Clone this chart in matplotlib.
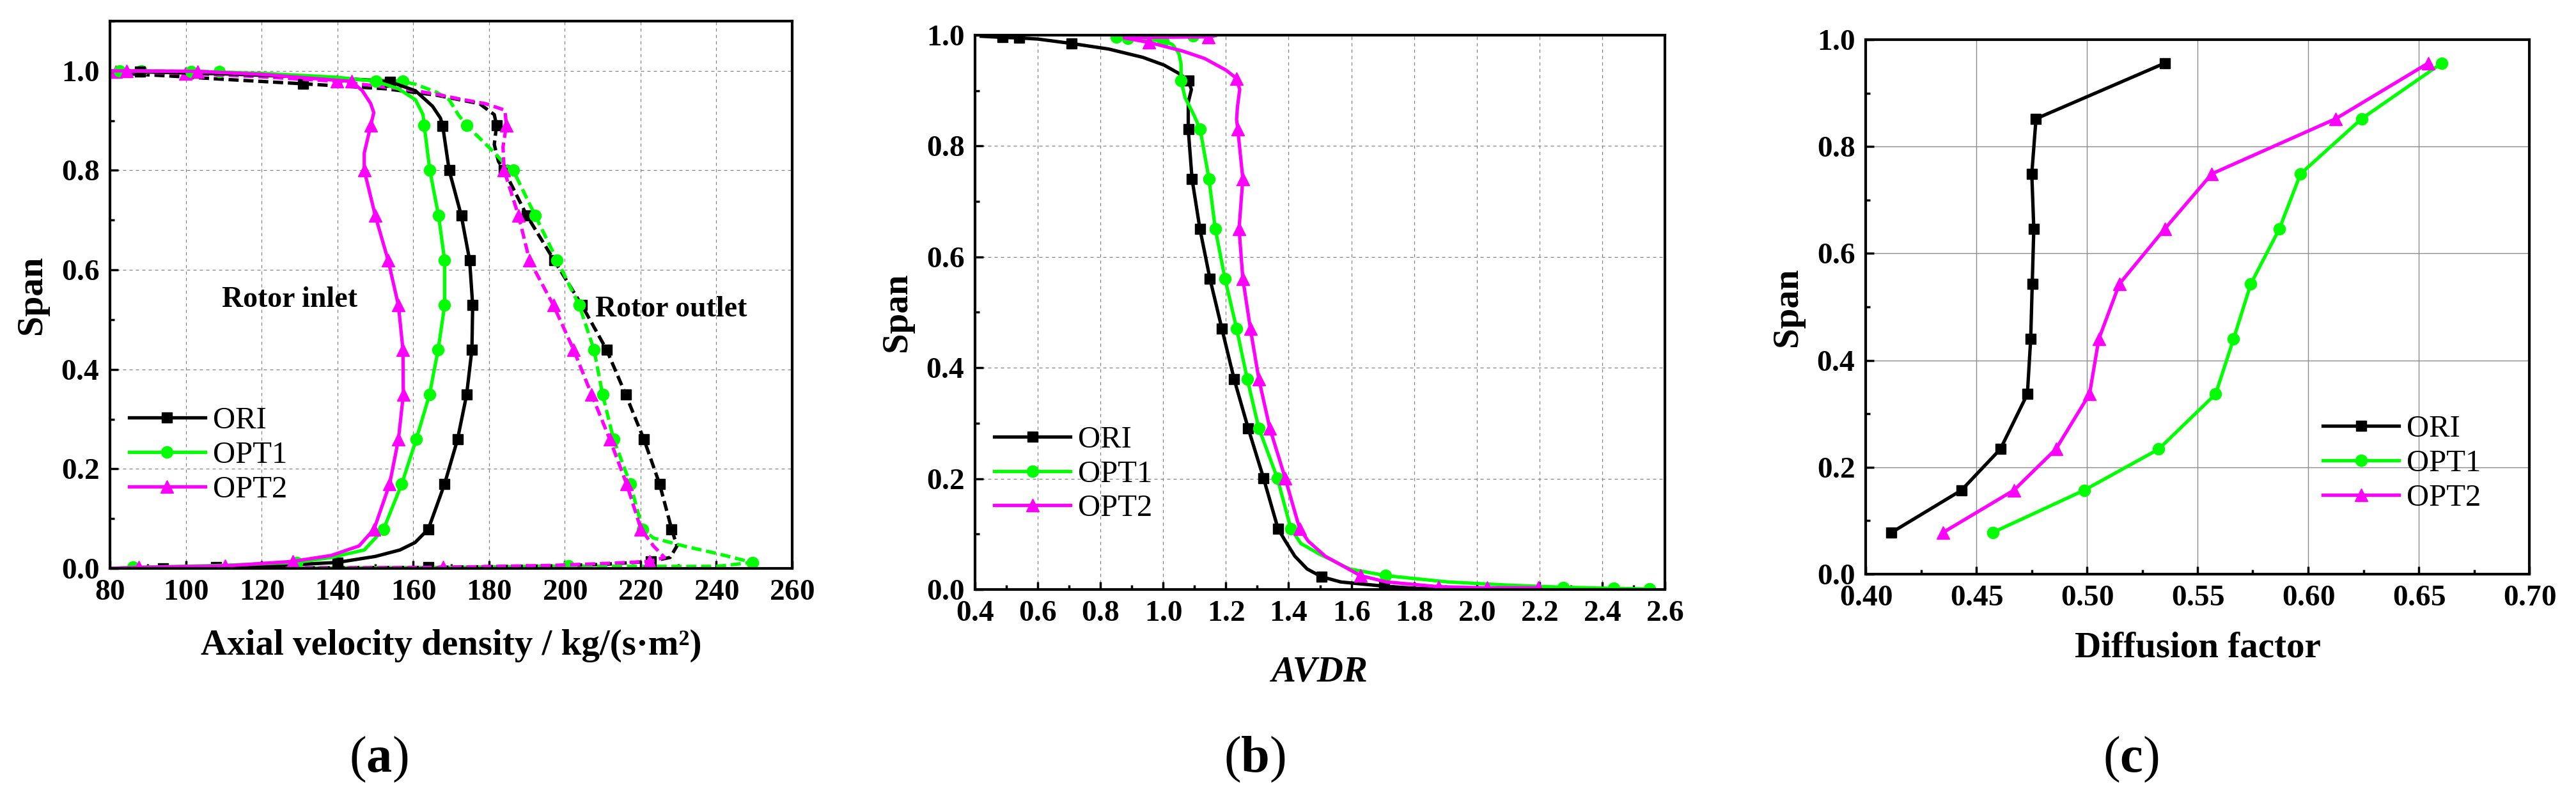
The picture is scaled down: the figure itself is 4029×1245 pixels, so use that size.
import matplotlib
matplotlib.use('Agg')
import matplotlib.pyplot as plt
from matplotlib.ticker import MultipleLocator, FuncFormatter

plt.rcParams['font.family'] = ['Liberation Serif', 'DejaVu Serif']
plt.rcParams['font.weight'] = 'bold'
plt.rcParams['axes.labelweight'] = 'bold'
plt.rcParams['mathtext.fontset'] = 'custom'
plt.rcParams['mathtext.rm'] = 'Liberation Serif'
plt.rcParams['mathtext.bf'] = 'Liberation Serif:bold'
plt.rcParams['mathtext.it'] = 'Liberation Serif:italic'

# ---- (a) axial velocity density, rotor inlet (solid) / outlet (dashed)
ori_in_x = [80, 88, 110, 130, 145, 153.9, 160.6, 165.1, 167.2, 167.8, 169.5, 172.7, 174.9, 175.7, 175.5,
            174.1, 171.7, 168.3, 164.0, 160.5, 156.5, 150, 140, 125, 108, 94, 80]
ori_in_s = [1.0, 0.998, 0.994, 0.988, 0.983, 0.978, 0.960, 0.929, 0.905, 0.889, 0.80, 0.709, 0.619, 0.529, 0.44,
            0.349, 0.259, 0.17, 0.079, 0.052, 0.037, 0.024, 0.012, 0.006, 0.003, 0.001, 0.0]
ori_in_m = [1, 5, 9, 10, 11, 12, 13, 14, 15, 16, 17, 18, 22, 24]

ori_out_x = [80, 95, 110, 130.9, 152.7, 166.2, 177.5, 181.4, 182.0, 181.4, 182.5, 184.0, 190.0, 197.2, 204.5,
             211.0, 216.1, 220.9, 225.0, 228.2, 229.6, 227.8, 222.7, 210, 196.5, 164, 124, 94, 80]
ori_out_s = [0.996, 0.99, 0.983, 0.974, 0.964, 0.951, 0.934, 0.912, 0.890, 0.852, 0.818, 0.80, 0.709, 0.619, 0.529,
             0.44, 0.349, 0.259, 0.17, 0.079, 0.045, 0.022, 0.014, 0.008, 0.005, 0.002, 0.001, 0.0, 0.0]
ori_out_m = [3, 8, 11, 12, 13, 14, 15, 16, 17, 18, 19, 22, 25, 27]

opt1_in_x = [80, 82.5, 101.4, 120, 140, 150.2, 156.1, 160.6, 162.6, 162.9, 164.4, 166.7, 168.3, 168.3, 166.6,
             164.3, 160.8, 157.0, 152.2, 147.1, 138.4, 129.3, 109.3, 86.1, 80]
opt1_in_s = [1.0, 1.0, 0.999, 0.995, 0.987, 0.979, 0.964, 0.942, 0.912, 0.891, 0.80, 0.709, 0.619, 0.529, 0.44,
             0.349, 0.259, 0.17, 0.079, 0.037, 0.022, 0.012, 0.006, 0.002, 0.0]
opt1_in_m = [1, 2, 5, 9, 10, 11, 12, 13, 14, 15, 16, 17, 18, 21, 23]

opt1_out_x = [80, 88.3, 108.9, 130, 145, 157.2, 160.6, 166.2, 169.5, 171.9, 174.1, 177.5, 180.3, 184.7, 186.4,
              192.2, 198.0, 203.8, 207.7, 210.0, 212.9, 217.3, 220.5, 223.4, 231.4, 240.1, 249.5, 240, 220,
              200.9, 170, 138.4, 100, 80]
opt1_out_s = [1.0, 1.0, 0.998, 0.99, 0.983, 0.979, 0.973, 0.957, 0.942, 0.912, 0.890, 0.865, 0.844, 0.809, 0.80,
              0.709, 0.619, 0.529, 0.44, 0.349, 0.259, 0.17, 0.079, 0.061, 0.045, 0.03, 0.012, 0.004, 0.004,
              0.005, 0.002, 0.001, 0.0, 0.0]
opt1_out_m = [1, 2, 5, 10, 14, 15, 16, 17, 18, 19, 20, 21, 22, 26, 29]

opt2_in_x = [80, 84.4, 103.1, 120, 139.9, 143.7, 146.6, 148.8, 149.6, 148.8, 147.1, 147.1, 150.0, 153.4, 156.1,
             157.3, 157.4, 156.1, 153.8, 149.7, 145.7, 138.4, 128.2, 110.4, 87.6, 80]
opt2_in_s = [1.0, 1.0, 0.999, 0.993, 0.981, 0.979, 0.96, 0.934, 0.916, 0.890, 0.835, 0.80, 0.709, 0.619, 0.529,
             0.44, 0.349, 0.259, 0.17, 0.079, 0.045, 0.026, 0.014, 0.005, 0.002, 0.0]
opt2_in_m = [1, 2, 5, 9, 11, 12, 13, 14, 15, 16, 17, 18, 19, 22, 23, 24]

opt2_out_x = [80, 81.5, 99.9, 120, 139.9, 146.6, 160.6, 166.2, 171.9, 179.1, 184.2, 184.6, 183.7, 184.0, 187.8,
              190.7, 197.0, 202.3, 207.1, 211.9, 216.3, 220.1, 223.4, 226.3, 222.4, 211, 196.5, 167.9, 138.4,
              100, 80]
opt2_out_s = [0.998, 0.998, 0.995, 0.988, 0.979, 0.973, 0.96, 0.953, 0.944, 0.934, 0.921, 0.891, 0.847, 0.80,
              0.709, 0.619, 0.529, 0.44, 0.349, 0.259, 0.17, 0.079, 0.045, 0.022, 0.014, 0.01, 0.006, 0.002,
              0.001, 0.0, 0.0]
opt2_out_m = [1, 2, 4, 11, 13, 14, 15, 16, 17, 18, 19, 20, 21, 24, 27]

# ---- (b) AVDR
ori_avdr = [0.42, 0.487, 0.541, 0.6, 0.708, 0.826, 0.935, 1.003, 1.05, 1.08, 1.09, 1.08, 1.08, 1.092, 1.117,
            1.149, 1.187, 1.226, 1.271, 1.320, 1.366, 1.39, 1.42, 1.459, 1.505, 1.566, 1.705, 1.81, 1.95]
ori_avdr_s = [0.998, 0.996, 0.995, 0.993, 0.985, 0.975, 0.96, 0.946, 0.931, 0.918, 0.902, 0.879, 0.830, 0.741,
              0.651, 0.561, 0.471, 0.380, 0.291, 0.201, 0.110, 0.087, 0.06, 0.037, 0.023, 0.0136, 0.006, 0.002, 0.0]
ori_avdr_m = [1, 2, 4, 9, 12, 13, 14, 15, 16, 17, 18, 19, 20, 24, 26]

opt1_avdr = [1.095, 0.85, 0.887, 0.91, 0.999, 1.03, 1.05, 1.057, 1.057, 1.07, 1.098, 1.118, 1.146, 1.166, 1.197,
             1.234, 1.268, 1.305, 1.364, 1.407, 1.439, 1.498, 1.595, 1.71, 1.907, 2.102, 2.275, 2.436, 2.551]
opt1_avdr_s = [0.999, 0.996, 0.994, 0.993, 0.99, 0.983, 0.967, 0.948, 0.918, 0.887, 0.856, 0.830, 0.741, 0.651,
               0.561, 0.471, 0.380, 0.291, 0.201, 0.110, 0.083, 0.064, 0.037, 0.025, 0.0136, 0.0078, 0.004,
               0.002, 0.001]
opt1_avdr_m = [0, 1, 2, 4, 8, 11, 12, 13, 14, 15, 16, 17, 18, 19, 23, 26, 27, 28]

opt2_avdr = [1.166, 1.145, 0.95, 0.876, 0.955, 1.064, 1.132, 1.2, 1.234, 1.244, 1.237, 1.234, 1.238, 1.254, 1.242,
             1.254, 1.278, 1.305, 1.340, 1.389, 1.435, 1.463, 1.517, 1.629, 1.712, 1.878, 2.034, 2.197]
opt2_avdr_s = [0.999, 0.997, 0.996, 0.995, 0.987, 0.971, 0.958, 0.937, 0.922, 0.902, 0.871, 0.848, 0.830, 0.741,
               0.651, 0.561, 0.471, 0.380, 0.291, 0.201, 0.110, 0.087, 0.06, 0.025, 0.0136, 0.005, 0.003, 0.003]
opt2_avdr_m = [1, 4, 8, 12, 13, 14, 15, 16, 17, 18, 19, 20, 23, 25, 26, 27]

# ---- (c) diffusion factor
df_span = [0.078, 0.157, 0.234, 0.337, 0.440, 0.543, 0.646, 0.749, 0.852, 0.956]
ori_df = [0.4117, 0.4433, 0.4609, 0.4731, 0.4746, 0.4753, 0.4760, 0.4751, 0.4770, 0.5352]
opt1_df = [0.4575, 0.4988, 0.5325, 0.5582, 0.5663, 0.5741, 0.5870, 0.5966, 0.6242, 0.6604]
opt2_df = [0.4350, 0.4670, 0.4860, 0.5012, 0.5054, 0.5147, 0.5352, 0.5565, 0.6125, 0.6543]

names = ['ORI', 'OPT1', 'OPT2']
colors = ['black', '#00ff00', '#ff00ff']
marks = ['s', 'o', '^']
msizes = [12, 13, 15]
LW = 3.8

W, H = 4029, 1245
fig = plt.figure(figsize=(W / 100, H / 100), dpi=100)


def px_axes(left, right, top, bottom):
    return fig.add_axes([left / W, 1 - bottom / H, (right - left) / W, (bottom - top) / H])


def bold_fmt(fmt):
    # bold tick labels through mathtext
    return FuncFormatter(lambda v, p: r'$\mathbf{' + (fmt % v) + '}$')


def style(ax, xmaj, xmin, xfmt, dashed_grid=True):
    ax.xaxis.set_major_locator(MultipleLocator(xmaj))
    ax.xaxis.set_minor_locator(MultipleLocator(xmin))
    ax.yaxis.set_major_locator(MultipleLocator(0.2))
    ax.yaxis.set_minor_locator(MultipleLocator(0.1))
    ax.xaxis.set_major_formatter(bold_fmt(xfmt))
    ax.yaxis.set_major_formatter(bold_fmt('%.1f'))
    ax.tick_params(which='both', direction='in', top=False, right=False, width=2.5)
    ax.tick_params(which='major', length=9, labelsize=34, pad=12)
    ax.tick_params(which='minor', length=5)
    for sp in ax.spines.values():
        sp.set_linewidth(3)
    if dashed_grid:
        ax.grid(True, color='#808080', linestyle=(0, (4, 4)), linewidth=0.9)
    else:
        ax.grid(True, color='#8a8a8a', linestyle='-', linewidth=1.0)
    ax.set_axisbelow(True)
    ax.set_ylabel('Span', fontsize=41, fontweight='bold', labelpad=14)


def legend(ax, handles, x, y):
    ax.legend(handles, names, loc='center left', bbox_to_anchor=(x, y), frameon=False,
              prop={'family': 'Liberation Serif', 'weight': 'normal', 'size': 35},
              handlelength=2.45, handletextpad=0.25, labelspacing=0.2, borderpad=0, borderaxespad=0)


# (a)
ax1 = px_axes(172, 1239, 33, 889)
a_in = [(ori_in_x, ori_in_s, ori_in_m), (opt1_in_x, opt1_in_s, opt1_in_m), (opt2_in_x, opt2_in_s, opt2_in_m)]
a_out = [(ori_out_x, ori_out_s, ori_out_m), (opt1_out_x, opt1_out_s, opt1_out_m),
         (opt2_out_x, opt2_out_s, opt2_out_m)]
hs = []
for i in range(3):
    x, s, m = a_out[i]
    ax1.plot(x, s, color=colors[i], lw=LW, ls=(0, (3, 1.4)), marker=marks[i], ms=msizes[i], markevery=m)
for i in range(3):
    x, s, m = a_in[i]
    h, = ax1.plot(x, s, color=colors[i], lw=LW, marker=marks[i], ms=msizes[i], markevery=m)
    hs.append(h)
ax1.set_xlim(80, 260)
ax1.set_ylim(0, 1.1)
style(ax1, 20, 10, '%d')
ax1.set_xlabel('Axial velocity density / kg/(s\u00b7m\u00b2)', fontsize=41, fontweight='bold', labelpad=26)
ax1.text(109.5, 0.54, 'Rotor inlet', fontsize=33, fontweight='bold', va='center', ha='left')
ax1.text(208, 0.52, 'Rotor outlet', fontsize=33, fontweight='bold', va='center', ha='left')
legend(ax1, hs, 0.028, 0.207)

# (b)
ax2 = px_axes(1525, 2604, 55, 922)
b_data = [(ori_avdr, ori_avdr_s, ori_avdr_m), (opt1_avdr, opt1_avdr_s, opt1_avdr_m),
          (opt2_avdr, opt2_avdr_s, opt2_avdr_m)]
hs = []
for i in range(3):
    x, s, m = b_data[i]
    h, = ax2.plot(x, s, color=colors[i], lw=LW, marker=marks[i], ms=msizes[i], markevery=m)
    hs.append(h)
ax2.set_xlim(0.4, 2.6)
ax2.set_ylim(0, 1.0)
style(ax2, 0.2, 0.1, '%.1f')
ax2.set_xlabel('AVDR', fontsize=41, fontweight='bold', style='italic', labelpad=32)
legend(ax2, hs, 0.028, 0.208)

# (c)
ax3 = px_axes(2918, 3956, 62, 898)
hs = []
for i, d in enumerate([ori_df, opt1_df, opt2_df]):
    h, = ax3.plot(d, df_span, color=colors[i], lw=LW, marker=marks[i], ms=msizes[i])
    hs.append(h)
ax3.set_xlim(0.40, 0.70)
ax3.set_ylim(0, 1.0)
style(ax3, 0.05, 0.025, '%.2f', dashed_grid=False)
ax3.set_xlabel('Diffusion factor', fontsize=41, fontweight='bold', labelpad=22)
legend(ax3, hs, 0.689, 0.207)

for lab, xc in [('a', 592), ('b', 1962), ('c', 3333)]:
    fig.text(xc / W, 1 - 1188 / H, '($\\mathbf{%s}$)' % lab, fontsize=58, fontweight='normal',
             ha='center', va='center')

fig.savefig('out.png', dpi=100)
